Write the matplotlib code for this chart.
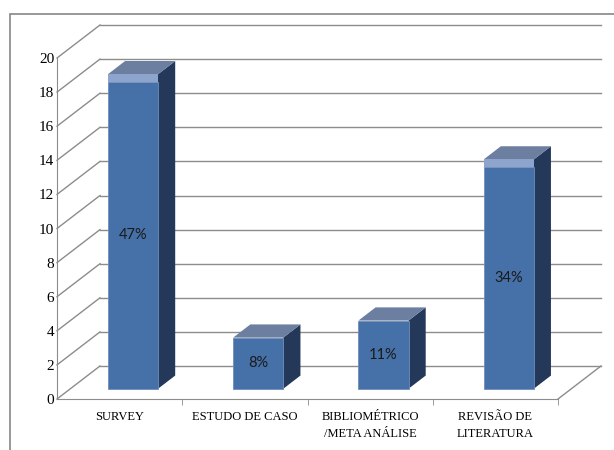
import matplotlib
matplotlib.use("Agg")
import matplotlib.pyplot as plt
from matplotlib.patches import Polygon, Rectangle
import numpy as np

# dados
categorias = ["SURVEY", "ESTUDO DE CASO", "BIBLIOMÉTRICO\n/META ANÁLISE", "REVISÃO DE\nLITERATURA"]
valores = [18, 3, 4, 13]
yticks = [0, 2, 4, 6, 8, 10, 12, 14, 16, 18, 20]

# cores
c_frente = '#4571A8'
c_lado = '#24395A'
c_topo = '#6C7FA0'
c_faixa = '#8DA4CC'
c_grade = '#8C8C8C'

W, H = 614, 450
fig = plt.figure(figsize=(W / 100, H / 100), dpi=100)
# plano frontal: x 57..558 px, y 399..58 px
ax = fig.add_axes([57 / W, (H - 399) / H, 501 / W, 341 / H])
ax.set_xlim(-0.5, 3.5)
ax.set_ylim(0, 20)

# profundidade 3D em unidades de dados
ddx = 43 / 125.25
ddy = 33 / 17.05
f0, fd = 0.31, 0.40
larg = 0.4
faixa = 0.45  # realce claro no topo das barras altas

# grade na parede do fundo e parede esquerda
for v in yticks:
    ax.plot([-0.5 + ddx, 3.5 + ddx], [v + ddy, v + ddy], color=c_grade, lw=1, clip_on=False, zorder=1)
    ax.plot([-0.5, -0.5 + ddx], [v, v + ddy], color=c_grade, lw=1, clip_on=False, zorder=1)
# chão
ax.plot([3.5, 3.5 + ddx], [0, ddy], color=c_grade, lw=1, clip_on=False, zorder=1)

x = np.arange(len(valores))
total = sum(valores)
for i, v in enumerate(valores):
    xc = x[i] + f0 * ddx
    b = f0 * ddy
    x0, x1 = xc - larg / 2, xc + larg / 2
    px, py = fd * ddx, fd * ddy
    alto = v + (faixa if v >= 10 else 0)
    lado = Polygon([(x1, b), (x1 + px, b + py), (x1 + px, b + alto + py), (x1, b + alto)],
                   closed=True, fc=c_lado, ec='none', clip_on=False, zorder=3)
    topo = Polygon([(x0, b + alto), (x1, b + alto), (x1 + px, b + alto + py), (x0 + px, b + alto + py)],
                   closed=True, fc=c_topo, ec='none', clip_on=False, zorder=3)
    ax.add_patch(lado)
    ax.add_patch(topo)
    ax.bar(xc, v, width=larg, bottom=b, color=c_frente, edgecolor='#6F8DBA', linewidth=0.6,
           clip_on=False, zorder=3)
    if v >= 10:
        ax.bar(xc, faixa, width=larg, bottom=b + v, color=c_faixa, linewidth=0,
               clip_on=False, zorder=4)
    ax.text(xc, b + v / 2, f"{round(v / total * 100)}%", ha='center', va='center',
            fontsize=10.5, family='Lato', color='#1a1a1a', zorder=5)

# eixos
for s in ['top', 'right']:
    ax.spines[s].set_visible(False)
for s in ['left', 'bottom']:
    ax.spines[s].set_color(c_grade)
    ax.spines[s].set_zorder(2)
ax.set_yticks(yticks)
ax.set_yticklabels([str(t) for t in yticks], family='Liberation Serif', fontsize=11)
ax.tick_params(axis='y', length=0, pad=2)
ax.set_xticks(x)
ax.set_xticklabels(categorias, family='Liberation Serif', fontsize=9, linespacing=1.5)
ax.tick_params(axis='x', length=0, pad=9)
ax.set_xticks([0.5, 1.5, 2.5, 3.5], minor=True)
ax.tick_params(axis='x', which='minor', length=4, color=c_grade, direction='out')
ax.patch.set_alpha(0)

# borda da área do gráfico
fig.add_artist(Rectangle((10 / W, -0.1), 1, (H - 14) / H + 0.1, transform=fig.transFigure,
                         fill=False, ec='#868686', lw=1.2))

fig.savefig("out.png", dpi=100)
